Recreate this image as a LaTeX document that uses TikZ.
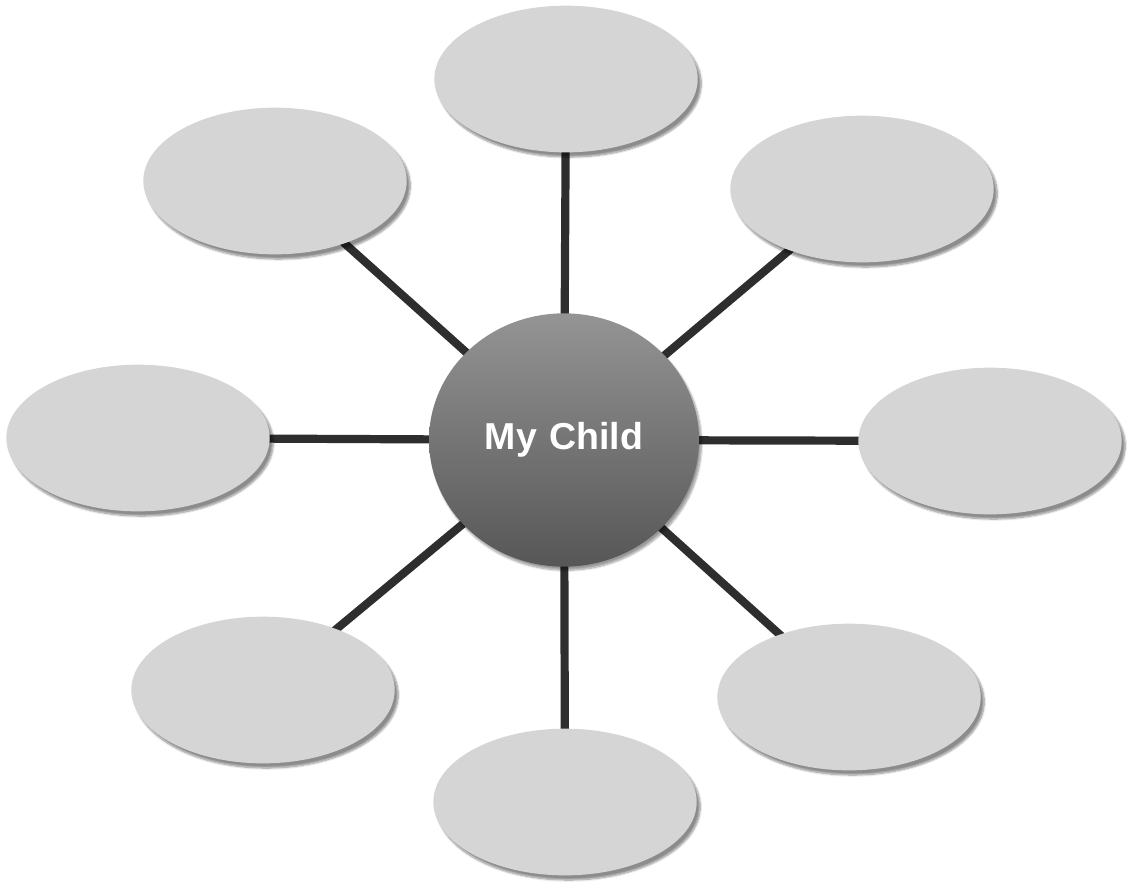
\documentclass[tikz,border=0pt]{standalone}
\usepackage{fontspec}
\setsansfont{Liberation Sans}
\usepackage{xcolor}
\usepackage{tikz}
\usetikzlibrary{positioning, shapes.geometric, backgrounds, shadows.blur}

\definecolor{bubblegray}{HTML}{D5D5D5}
\definecolor{spokegray}{HTML}{2E2E2E}

\begin{document}
\begin{tikzpicture}[
    x=0.03cm, y=-0.03cm,
    bubble/.style={ellipse, fill=bubblegray, minimum width=7.9cm, minimum height=4.4cm,
        blur shadow={shadow xshift=3pt, shadow yshift=-4pt, shadow blur steps=8, shadow opacity=45}},
    hub/.style={ellipse, minimum width=8.1cm, minimum height=7.6cm, top color=black!42, bottom color=black!66,
        blur shadow={shadow xshift=2pt, shadow yshift=-3pt, shadow blur steps=8, shadow opacity=40},
        font=\sffamily\bfseries\fontsize{32}{38}\selectfont, text=white},
    spoke/.style={draw=spokegray, line width=7pt}
]
\useasboundingbox (0,0) rectangle (1133,886);

% Centre
\node[hub] (child) at (564,440) {My\,\,Child};

% Outer bubbles
\node[bubble] (top) at (566,79) {};
\node[bubble] (topL) at (275,181) {};
\node[bubble] (topR) at (862,189) {};
\node[bubble] (left) at (138,438) {};
\node[bubble] (right) at (990,441) {};
\node[bubble] (botL) at (263,690) {};
\node[bubble] (botR) at (849,697) {};
\node[bubble] (bot) at (565,802) {};

% Spokes
\begin{scope}[on background layer]
\foreach \n in {top, topL, topR, left, right, botL, botR, bot}
    \draw[spoke] (child.center) -- (\n.center);
\end{scope}

\end{tikzpicture}
\end{document}
